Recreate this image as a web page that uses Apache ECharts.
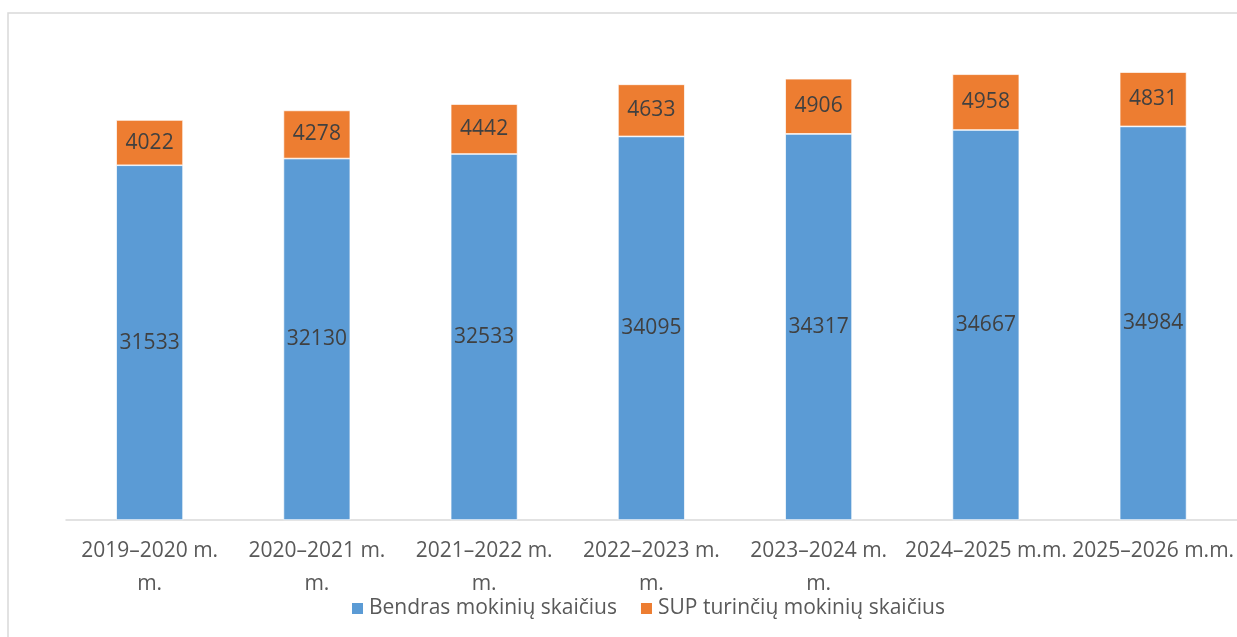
<!DOCTYPE html>
<html>
<head>
<meta charset="utf-8">
<script src="https://cdn.jsdelivr.net/npm/echarts@6/dist/echarts.min.js"></script>
<style>html,body{margin:0;padding:0;background:#fff}#c{width:1237px;height:637px}</style>
</head>
<body>
<div id="c"></div>
<script>
const categories = ['2019–2020 m. m.', '2020–2021 m. m.', '2021–2022 m. m.', '2022–2023 m. m.', '2023–2024 m. m.', '2024–2025 m.m.', '2025–2026 m.m.'];
const tickLabels = ['2019–2020 m.\nm.', '2020–2021 m.\nm.', '2021–2022 m.\nm.', '2022–2023 m.\nm.', '2023–2024 m.\nm.', '2024–2025 m.m.', '2025–2026 m.m.'];
const seriesNames = ['Bendras mokinių skaičius', 'SUP turinčių mokinių skaičius'];
const totalStudents = [31533, 32130, 32533, 34095, 34317, 34667, 34984];
const supStudents = [4022, 4278, 4442, 4633, 4906, 4958, 4831];

const font = 'Open Sans';
const chart = echarts.init(document.getElementById('c'));
const labelStyle = { show: true, position: 'inside', color: '#404040', fontSize: 21, fontFamily: font };
chart.setOption({
  animation: false,
  graphic: [{
    type: 'rect', shape: { x: 8, y: 13, width: 1260, height: 660 },
    style: { fill: 'none', stroke: '#d9d9d9', lineWidth: 1.5 }, silent: true, z: -1
  }],
  grid: { left: 66, right: -1, top: 70, height: 450, containLabel: false },
  legend: {
    left: 345, top: 593, itemWidth: 13, itemHeight: 13, itemGap: 22,
    icon: 'rect',
    textStyle: { color: '#595959', fontSize: 21, fontFamily: font },
    data: seriesNames
  },
  xAxis: {
    type: 'category', data: categories,
    axisLine: { lineStyle: { color: '#d9d9d9', width: 1.5 } },
    axisTick: { show: false },
    axisLabel: {
      color: '#595959', fontSize: 21, fontFamily: font, margin: 15, lineHeight: 33, interval: 0,
      formatter: (v, i) => tickLabels[i]
    }
  },
  yAxis: { type: 'value', min: 0, max: 40000, show: false, splitLine: { show: false } },
  series: [
    { name: seriesNames[0], type: 'bar', stack: 's', data: totalStudents, barWidth: '40%',
      itemStyle: { color: '#5b9bd5', borderColor: '#ffffff', borderWidth: 0.7 }, label: labelStyle },
    { name: seriesNames[1], type: 'bar', stack: 's', data: supStudents,
      itemStyle: { color: '#ed7d31', borderColor: '#ffffff', borderWidth: 0.7 }, label: labelStyle }
  ]
});
</script>
</body>
</html>
